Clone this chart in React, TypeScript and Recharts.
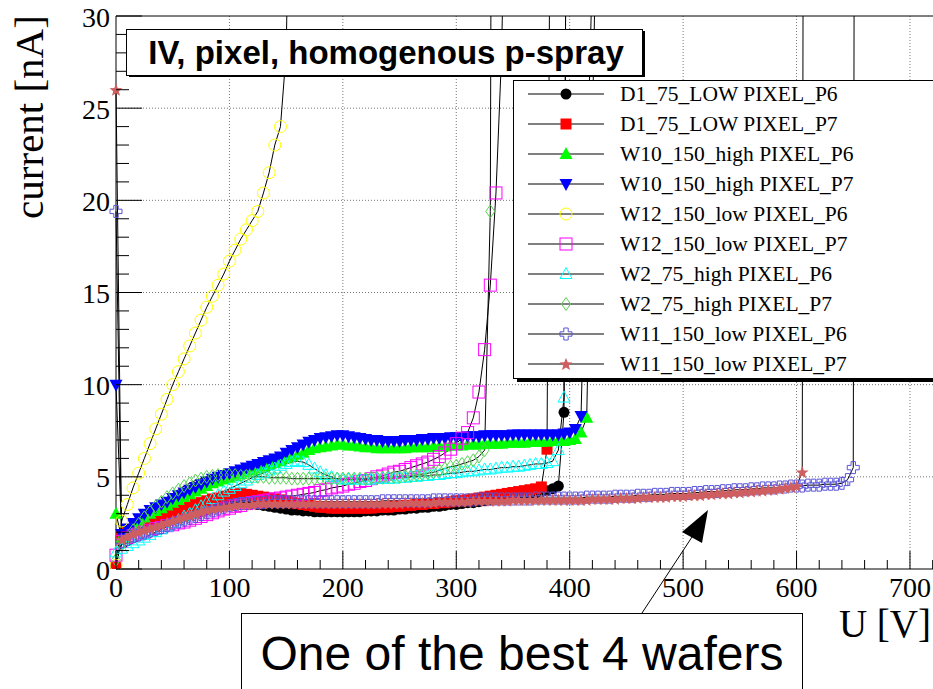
import { LineChart, Line, XAxis, YAxis, CartesianGrid, ReferenceLine, Legend } from 'recharts'

const FONT_SERIF = "'Liberation Serif', 'Times New Roman', serif"
const FONT_SANS = "'Liberation Sans', Arial, Helvetica, sans-serif"

// bias voltage grid [V], 5 V steps
const U_GRID = [
  0, 5, 10, 15, 20, 25, 30, 35, 40, 45,
  50, 55, 60, 65, 70, 75, 80, 85, 90, 95,
  100, 105, 110, 115, 120, 125, 130, 135, 140, 145,
  150, 155, 160, 165, 170, 175, 180, 185, 190, 195,
  200, 205, 210, 215, 220, 225, 230, 235, 240, 245,
  250, 255, 260, 265, 270, 275, 280, 285, 290, 295,
  300, 305, 310, 315, 320, 325, 330, 335, 340, 345,
  350, 355, 360, 365, 370, 375, 380, 385, 390, 395,
  400, 405, 410, 415, 420, 425, 430, 435, 440, 445,
  450, 455, 460, 465, 470, 475, 480, 485, 490, 495,
  500, 505, 510, 515, 520, 525, 530, 535, 540, 545,
  550, 555, 560, 565, 570, 575, 580, 585, 590, 595,
  600, 605, 610, 615, 620, 625, 630, 635, 640, 645,
  650,
]

// leakage current [nA] per pixel, one value per grid step
const I_D1_P6 = [
  0.1, 1.6, 1.8, 2.0, 2.2, 2.35, 2.5, 2.65, 2.8, 2.9,
  3.0, 3.1, 3.2, 3.3, 3.4, 3.5, 3.55, 3.6, 3.65, 3.7,
  3.7, 3.7, 3.65, 3.6, 3.55, 3.5, 3.45, 3.4, 3.35, 3.3,
  3.25, 3.2, 3.2, 3.15, 3.15, 3.1, 3.1, 3.1, 3.1, 3.1,
  3.1, 3.1, 3.1, 3.1, 3.15, 3.15, 3.15, 3.2, 3.2, 3.2,
  3.25, 3.25, 3.3, 3.3, 3.35, 3.35, 3.4, 3.4, 3.45, 3.5,
  3.5, 3.55, 3.6, 3.6, 3.65, 3.7, 3.75, 3.8, 3.85, 3.9,
  3.95, 4.0, 4.05, 4.1, 4.15, 4.2, 4.25, 4.35, 4.5, 8.5,
]
const I_D1_P7 = [
  0.1, 1.8, 2.0, 2.15, 2.3, 2.45, 2.6, 2.75, 2.9, 3.0,
  3.1, 3.2, 3.3, 3.4, 3.5, 3.6, 3.7, 3.8, 3.85, 3.95,
  4.0, 4.05, 4.1, 4.05, 4.0, 3.95, 3.9, 3.85, 3.8, 3.75,
  3.7, 3.6, 3.55, 3.5, 3.45, 3.4, 3.35, 3.35, 3.3, 3.3,
  3.3, 3.3, 3.3, 3.3, 3.3, 3.3, 3.35, 3.35, 3.35, 3.4,
  3.4, 3.45, 3.45, 3.5, 3.5, 3.55, 3.55, 3.6, 3.6, 3.65,
  3.7, 3.7, 3.75, 3.8, 3.85, 3.9, 3.95, 4.0, 4.05, 4.1,
  4.15, 4.2, 4.25, 4.3, 4.35, 4.45, 6.5,
]
const I_W10_P6 = [
  3.0, 1.7, 2.0, 2.3, 2.55, 2.8, 3.0, 3.15, 3.3, 3.45,
  3.6, 3.75, 3.9, 4.05, 4.2, 4.35, 4.5, 4.65, 4.75, 4.85,
  4.95, 5.05, 5.15, 5.25, 5.35, 5.45, 5.55, 5.65, 5.75, 5.85,
  6.0, 6.1, 6.2, 6.3, 6.45, 6.55, 6.6, 6.65, 6.7, 6.75,
  6.75, 6.7, 6.7, 6.65, 6.6, 6.6, 6.55, 6.55, 6.55, 6.55,
  6.55, 6.55, 6.6, 6.6, 6.6, 6.6, 6.65, 6.65, 6.65, 6.7,
  6.7, 6.7, 6.75, 6.75, 6.75, 6.8, 6.8, 6.8, 6.8, 6.85,
  6.85, 6.85, 6.85, 6.9, 6.9, 6.9, 6.9, 6.95, 6.95, 6.95,
  7.0, 7.05, 7.4, 8.2,
]
const I_W10_P7 = [
  10.0, 1.9, 2.2, 2.5, 2.75, 3.0, 3.2, 3.35, 3.5, 3.65,
  3.85, 4.0, 4.15, 4.3, 4.45, 4.6, 4.75, 4.9, 5.0, 5.1,
  5.2, 5.3, 5.4, 5.5, 5.6, 5.7, 5.8, 5.9, 6.0, 6.1,
  6.3, 6.45, 6.6, 6.75, 6.9, 7.0, 7.1, 7.15, 7.2, 7.25,
  7.25, 7.2, 7.15, 7.1, 7.05, 7.0, 7.0, 6.95, 6.95, 6.95,
  6.95, 7.0, 7.0, 7.0, 7.05, 7.05, 7.1, 7.1, 7.1, 7.15,
  7.15, 7.15, 7.2, 7.2, 7.2, 7.25, 7.25, 7.25, 7.25, 7.25,
  7.3, 7.3, 7.3, 7.3, 7.3, 7.3, 7.3, 7.3, 7.3, 7.35,
  7.4, 7.6, 8.3,
]
const I_W12_P6 = [
  0.2, 2.6, 3.5, 4.4, 5.2, 6.0, 6.8, 7.6, 8.4, 9.2,
  10.0, 10.7, 11.4, 12.1, 12.8, 13.5, 14.2, 14.8, 15.4, 16.0,
  16.7, 17.3, 17.9, 18.4, 18.9, 19.4, 20.4, 21.5, 23.0, 24.0,
]
const I_W12_P7 = [
  0.75, 1.5, 1.7, 1.8, 1.9, 2.0, 2.1, 2.2, 2.25, 2.35,
  2.4, 2.5, 2.55, 2.65, 2.75, 2.85, 2.95, 3.05, 3.15, 3.25,
  3.3, 3.4, 3.45, 3.55, 3.6, 3.65, 3.7, 3.75, 3.8, 3.85,
  3.9, 3.95, 4.0, 4.05, 4.1, 4.15, 4.25, 4.3, 4.4, 4.45,
  4.5, 4.6, 4.65, 4.75, 4.8, 4.9, 5.0, 5.05, 5.15, 5.25,
  5.3, 5.4, 5.5, 5.6, 5.7, 5.8, 5.95, 6.1, 6.3, 6.5,
  6.8, 7.1, 7.4, 8.2, 9.6, 11.9, 15.4, 20.4,
]
const I_W2_P6 = [
  0.9, 1.1, 1.25, 1.4, 1.55, 1.7, 1.85, 2.0, 2.15, 2.3,
  2.5, 2.65, 2.85, 3.0, 3.2, 3.4, 3.6, 3.8, 4.0, 4.2,
  4.35, 4.5, 4.65, 4.8, 4.95, 5.1, 5.2, 5.35, 5.45, 5.6,
  5.7, 5.8, 5.85, 5.8, 5.65, 5.45, 5.25, 5.1, 5.0, 4.9,
  4.85, 4.85, 4.85, 4.85, 4.85, 4.85, 4.9, 4.9, 4.9, 4.9,
  4.95, 4.95, 5.0, 5.0, 5.05, 5.05, 5.1, 5.1, 5.15, 5.2,
  5.2, 5.25, 5.3, 5.3, 5.35, 5.4, 5.4, 5.45, 5.5, 5.5,
  5.55, 5.55, 5.6, 5.65, 5.7, 5.7, 5.75, 5.85, 6.45, 9.3,
]
const I_W2_P7 = [
  0.5, 1.3, 1.7, 2.1, 2.45, 2.8, 3.1, 3.4, 3.65, 3.9,
  4.1, 4.3, 4.5, 4.65, 4.8, 4.9, 5.0, 5.05, 5.1, 5.1,
  5.1, 5.1, 5.05, 5.05, 5.0, 5.0, 5.0, 4.95, 4.95, 4.95,
  4.95, 4.9, 4.9, 4.9, 4.9, 4.9, 4.9, 4.9, 4.9, 4.9,
  4.9, 4.9, 4.9, 4.9, 4.9, 4.95, 4.95, 4.95, 5.0, 5.0,
  5.0, 5.05, 5.05, 5.1, 5.15, 5.2, 5.25, 5.35, 5.45, 5.55,
  5.6, 5.7, 5.8, 5.9, 6.1, 6.45, 19.4,
]
const I_W11_P6 = [
  19.4, 1.5, 1.6, 1.75, 1.85, 1.95, 2.05, 2.15, 2.25, 2.35,
  2.45, 2.55, 2.65, 2.75, 2.85, 2.95, 3.05, 3.15, 3.25, 3.35,
  3.45, 3.5, 3.55, 3.55, 3.6, 3.6, 3.6, 3.65, 3.65, 3.65,
  3.65, 3.65, 3.65, 3.65, 3.65, 3.65, 3.65, 3.65, 3.65, 3.65,
  3.65, 3.65, 3.65, 3.65, 3.65, 3.65, 3.65, 3.7, 3.7, 3.7,
  3.7, 3.7, 3.7, 3.7, 3.7, 3.7, 3.75, 3.75, 3.75, 3.75,
  3.75, 3.75, 3.75, 3.75, 3.8, 3.8, 3.8, 3.8, 3.8, 3.8,
  3.8, 3.8, 3.8, 3.8, 3.85, 3.85, 3.85, 3.85, 3.85, 3.85,
  3.85, 3.85, 3.85, 3.9, 3.9, 3.9, 3.9, 3.9, 3.95, 3.95,
  3.95, 3.95, 4.0, 4.0, 4.0, 4.05, 4.05, 4.05, 4.1, 4.1,
  4.1, 4.1, 4.15, 4.15, 4.2, 4.2, 4.2, 4.25, 4.25, 4.3,
  4.3, 4.3, 4.35, 4.35, 4.4, 4.4, 4.4, 4.45, 4.45, 4.5,
  4.5, 4.5, 4.55, 4.55, 4.55, 4.6, 4.6, 4.6, 4.65, 4.85,
  5.5,
]
const I_W11_P7 = [
  26.0, 1.6, 1.75, 1.9, 2.0, 2.1, 2.2, 2.3, 2.4, 2.5,
  2.6, 2.7, 2.8, 2.9, 3.0, 3.1, 3.2, 3.25, 3.3, 3.35,
  3.4, 3.45, 3.5, 3.5, 3.5, 3.55, 3.55, 3.55, 3.55, 3.55,
  3.55, 3.55, 3.55, 3.55, 3.55, 3.55, 3.55, 3.55, 3.55, 3.55,
  3.55, 3.55, 3.55, 3.55, 3.55, 3.55, 3.55, 3.55, 3.55, 3.55,
  3.55, 3.6, 3.6, 3.6, 3.6, 3.6, 3.6, 3.65, 3.65, 3.65,
  3.65, 3.65, 3.65, 3.7, 3.7, 3.7, 3.7, 3.7, 3.7, 3.7,
  3.75, 3.75, 3.75, 3.75, 3.75, 3.75, 3.75, 3.75, 3.75, 3.75,
  3.75, 3.75, 3.75, 3.75, 3.8, 3.8, 3.8, 3.8, 3.8, 3.85,
  3.85, 3.85, 3.85, 3.9, 3.9, 3.9, 3.9, 3.9, 3.95, 3.95,
  3.95, 4.0, 4.0, 4.0, 4.05, 4.05, 4.1, 4.1, 4.1, 4.15,
  4.15, 4.2, 4.2, 4.25, 4.25, 4.3, 4.3, 4.35, 4.4, 4.45,
  4.5, 5.25,
]

// breakdown: last readings [V, nA], far above the plotted range
const TAIL_D1_P6 = [[397, 40]]
const TAIL_D1_P7 = [[383, 40]]
const TAIL_W10_P6 = [[425, 40]]
const TAIL_W10_P7 = [[423, 40]]
const TAIL_W12_P6 = [[150, 28], [155, 45]]
const TAIL_W12_P7 = [[340, 28], [345, 45]]
const TAIL_W2_P6 = [[397, 40]]
const TAIL_W2_P7 = [[331, 40]]
const TAIL_W11_P6 = [[651, 40]]
const TAIL_W11_P7 = [[606, 40]]

const X_TICKS = [0, 20, 40, 60, 80, 100, 120, 140, 160, 180, 200, 220, 240, 260, 280, 300, 320, 340, 360, 380, 400, 420, 440, 460, 480, 500, 520, 540, 560, 580, 600, 620, 640, 660, 680, 700, 720]
const Y_TICKS = [0, 1, 2, 3, 4, 5, 6, 7, 8, 9, 10, 11, 12, 13, 14, 15, 16, 17, 18, 19, 20, 21, 22, 23, 24, 25, 26, 27, 28, 29, 30]
const X_GRID = [100, 200, 300, 400, 500, 600, 700]
const Y_GRID = [5, 10, 15, 20, 25]

type Shape = 'circle' | 'square' | 'triUp' | 'triDown' | 'openCircle' | 'openSquare' | 'openTri' | 'diamond' | 'cross' | 'star'

interface Series {
  id: string
  name: string
  color: string
  shape: Shape
  amps: number[]
  tail: number[][]
}

const SERIES: Series[] = [
  { id: 'd1p6', name: 'D1_75_LOW PIXEL_P6', color: '#000000', shape: 'circle', amps: I_D1_P6, tail: TAIL_D1_P6 },
  { id: 'd1p7', name: 'D1_75_LOW PIXEL_P7', color: '#ff0000', shape: 'square', amps: I_D1_P7, tail: TAIL_D1_P7 },
  { id: 'w10p6', name: 'W10_150_high PIXEL_P6', color: '#00ff00', shape: 'triUp', amps: I_W10_P6, tail: TAIL_W10_P6 },
  { id: 'w10p7', name: 'W10_150_high PIXEL_P7', color: '#0000ff', shape: 'triDown', amps: I_W10_P7, tail: TAIL_W10_P7 },
  { id: 'w12p6', name: 'W12_150_low PIXEL_P6', color: '#ffff00', shape: 'openCircle', amps: I_W12_P6, tail: TAIL_W12_P6 },
  { id: 'w12p7', name: 'W12_150_low PIXEL_P7', color: '#ff00ff', shape: 'openSquare', amps: I_W12_P7, tail: TAIL_W12_P7 },
  { id: 'w2p6', name: 'W2_75_high PIXEL_P6', color: '#00ffff', shape: 'openTri', amps: I_W2_P6, tail: TAIL_W2_P6 },
  { id: 'w2p7', name: 'W2_75_high PIXEL_P7', color: '#59d454', shape: 'diamond', amps: I_W2_P7, tail: TAIL_W2_P7 },
  { id: 'w11p6', name: 'W11_150_low PIXEL_P6', color: '#5954d8', shape: 'cross', amps: I_W11_P6, tail: TAIL_W11_P6 },
  { id: 'w11p7', name: 'W11_150_low PIXEL_P7', color: '#cf5e61', shape: 'star', amps: I_W11_P7, tail: TAIL_W11_P7 },
]

function toRows(s: Series) {
  const main = s.amps.map((i, k) => ({ u: U_GRID[k], i }))
  return main.concat(s.tail.map(([u, i]) => ({ u, i })))
}

function starPoints(cx: number, cy: number, ro: number, ri: number) {
  const pts: string[] = []
  for (let k = 0; k < 10; k++) {
    const a = (-90 + k * 36) * Math.PI / 180
    const r = k % 2 === 0 ? ro : ri
    pts.push(`${cx + r * Math.cos(a)},${cy + r * Math.sin(a)}`)
  }
  return pts.join(' ')
}

function Marker({ shape, color, cx, cy }: { shape: Shape, color: string, cx: number, cy: number }) {
  switch (shape) {
    case 'circle':
      return <circle cx={cx} cy={cy} r={5.5} fill={color} />
    case 'square':
      return <rect x={cx - 5.5} y={cy - 5.5} width={11} height={11} fill={color} />
    case 'triUp':
      return <polygon points={`${cx},${cy - 7} ${cx + 6.5},${cy + 5} ${cx - 6.5},${cy + 5}`} fill={color} />
    case 'triDown':
      return <polygon points={`${cx},${cy + 7} ${cx + 6.5},${cy - 5} ${cx - 6.5},${cy - 5}`} fill={color} />
    case 'openCircle':
      return <circle cx={cx} cy={cy} r={6} fill="none" stroke={color} strokeWidth={1} />
    case 'openSquare':
      return <rect x={cx - 6} y={cy - 6} width={12} height={12} fill="none" stroke={color} strokeWidth={1} />
    case 'openTri':
      return <polygon points={`${cx},${cy - 6.5} ${cx + 6},${cy + 4.5} ${cx - 6},${cy + 4.5}`} fill="none" stroke={color} strokeWidth={1} />
    case 'diamond':
      return <polygon points={`${cx},${cy - 6.5} ${cx + 4.5},${cy} ${cx},${cy + 6.5} ${cx - 4.5},${cy}`} fill="none" stroke={color} strokeWidth={1} />
    case 'cross': {
      const a = 2.2, b = 6
      const d = `M${cx - a},${cy - b}H${cx + a}V${cy - a}H${cx + b}V${cy + a}H${cx + a}V${cy + b}H${cx - a}V${cy + a}H${cx - b}V${cy - a}H${cx - a}Z`
      return <path d={d} fill="none" stroke={color} strokeWidth={1} />
    }
    case 'star':
      return <polygon points={starPoints(cx, cy + 0.5, 6.8, 2.9)} fill={color} />
  }
  return null
}

function XTick(props: any) {
  const { x, y, payload } = props
  const v = payload.value
  const major = v % 100 === 0
  return (
    <g>
      <line x1={x} x2={x} y1={y} y2={y - (major ? 18 : 9)} stroke="#000" strokeWidth={1} />
      {major && (
        <text x={x} y={y + 28} textAnchor="middle" fontSize={28} fontFamily={FONT_SERIF} fill="#000">{v}</text>
      )}
    </g>
  )
}

function YTick(props: any) {
  const { x, y, payload } = props
  const v = payload.value
  const major = v % 5 === 0
  return (
    <g>
      <line x1={x} x2={x + (major ? 26 : 13)} y1={y} y2={y} stroke="#000" strokeWidth={1} />
      {major && (
        <text x={x - 6} y={y + 10.5} textAnchor="end" fontSize={28} fontFamily={FONT_SERIF} fill="#000">{v}</text>
      )}
    </g>
  )
}

function LegendBox() {
  return (
    <div style={{ width: 440, height: 299, boxSizing: 'border-box', border: '1px solid #000', background: '#fff', boxShadow: '4px 3px 0 #000' }}>
      <svg width={438} height={297}>
        {SERIES.map((s, k) => {
          const cy = 13 + k * 30
          return (
            <g key={s.id}>
              <line x1={14} x2={90} y1={cy} y2={cy} stroke="#000" strokeWidth={1} />
              <Marker shape={s.shape} color={s.color} cx={52} cy={cy} />
              <text x={106} y={cy + 7} fontSize={21.5} fontFamily={FONT_SERIF} fill="#000">{s.name}</text>
            </g>
          )
        })}
      </svg>
    </div>
  )
}

export default function App() {
  return (
    <div style={{ position: 'absolute', left: 0, top: 0, width: 933, height: 689, overflow: 'hidden', background: '#fff' }}>
      <LineChart width={960} height={689} margin={{ top: 16, right: 16, bottom: 90, left: 56 }}>
        <CartesianGrid verticalValues={X_GRID} horizontalValues={Y_GRID} stroke="#777" strokeDasharray="1 2" />
        <XAxis
          type="number"
          dataKey="u"
          domain={[0, 730]}
          ticks={X_TICKS}
          interval={0}
          tickSize={0}
          tickMargin={0}
          tickLine={false}
          tick={XTick}
          axisLine={{ stroke: '#000' }}
          height={30}
        />
        <YAxis
          type="number"
          domain={[0, 30]}
          allowDataOverflow
          ticks={Y_TICKS}
          interval={0}
          tickSize={0}
          tickMargin={0}
          tickLine={false}
          tick={YTick}
          axisLine={{ stroke: '#000' }}
          width={60}
        />
        <ReferenceLine y={30} stroke="#000" />
        {SERIES.map((s) => (
          <Line
            key={s.id}
            data={toRows(s)}
            dataKey="i"
            name={s.name}
            type="linear"
            stroke="#000"
            strokeWidth={1}
            isAnimationActive={false}
            activeDot={false}
            dot={(p: any) => <Marker key={`${s.id}-${p.index}`} shape={s.shape} color={s.color} cx={p.cx} cy={p.cy} />}
          />
        ))}
        <Legend
          layout="horizontal"
          verticalAlign="middle"
          align="center"
          wrapperStyle={{ left: 513, top: 80, width: 440, height: 299 }}
          content={() => <LegendBox />}
        />
      </LineChart>

      <svg width={933} height={689} style={{ position: 'absolute', left: 0, top: 0, pointerEvents: 'none' }}>
        <text transform="translate(43,117) rotate(-90)" textAnchor="middle" fontSize={41} fontFamily={FONT_SERIF} fill="#000">current [nA]</text>
        <text x={931} y={637} textAnchor="end" fontSize={39} fontFamily={FONT_SERIF} fill="#000">U [V]</text>

        <rect x={129} y={31} width={516} height={46} fill="#000" />
        <rect x={126.5} y={29.5} width={516} height={46} fill="#fff" stroke="#000" strokeWidth={1} />
        <text x={386} y={64} textAnchor="middle" fontSize={33} fontWeight="bold" fontFamily={FONT_SANS} fill="#000">IV, pixel, homogenous p-spray</text>

        <line x1={642} y1={613} x2={692} y2={537} stroke="#000" strokeWidth={1} />
        <polygon points="708,510 682,532 702,543" fill="#000" />
        <rect x={241.5} y={613.5} width={561} height={100} fill="#fff" stroke="#000" strokeWidth={1} />
        <text x={522} y={670} textAnchor="middle" fontSize={48} fontFamily={FONT_SANS} fill="#000">One of the best 4 wafers</text>
      </svg>
    </div>
  )
}
